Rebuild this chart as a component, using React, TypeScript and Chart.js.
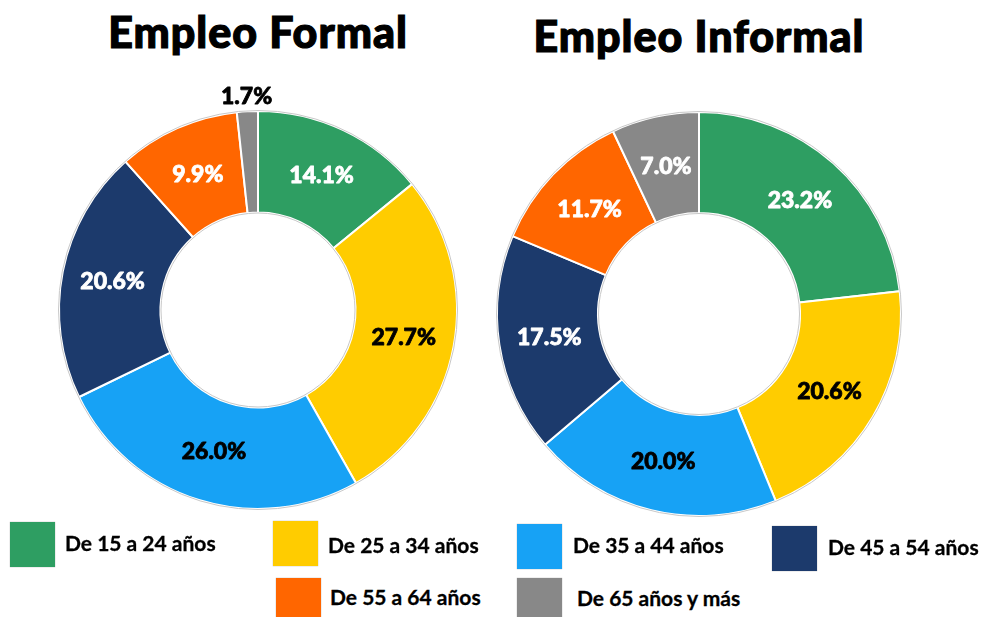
import React, { useEffect, useRef } from "react";
import { Chart, registerables } from "chart.js";

Chart.register(...registerables);

// ---- Data ----
const categories = [
  "De 15 a 24 años",
  "De 25 a 34 años",
  "De 35 a 44 años",
  "De 45 a 54 años",
  "De 55 a 64 años",
  "De 65 años y más",
];
const formalValues = [14.1, 27.7, 26.0, 20.6, 9.9, 1.7];
const informalValues = [23.2, 20.6, 20.0, 17.5, 11.7, 7.0];
const formalTitle = "Empleo Formal";
const informalTitle = "Empleo Informal";

// ---- Styles ----
const sliceColors = ["#2E9E62", "#FFCC00", "#17A2F5", "#1C3A6C", "#FF6600", "#888888"];
const formalLabelColors = ["#fff", "#000", "#000", "#fff", "#fff", "#000"];
const informalLabelColors = ["#fff", "#000", "#000", "#fff", "#fff", "#fff"];
const formalOutside = [false, false, false, false, false, true];
const informalOutside = [false, false, false, false, false, false];

const FONT = "Lato, 'Open Sans', 'DejaVu Sans', sans-serif";

function makeLabelPlugin(values: number[], colors: string[], outside: boolean[]) {
  return {
    id: "sliceLabels",
    afterDatasetsDraw(chart: any) {
      const ctx = chart.ctx;
      const meta = chart.getDatasetMeta(0);
      ctx.save();
      const a0 = meta.data[0];
      if (a0) {
        const p = a0.getProps(["x", "y", "innerRadius", "outerRadius"], true);
        ctx.strokeStyle = "#c8c8c8";
        ctx.lineWidth = 1;
        ctx.beginPath();
        ctx.arc(p.x, p.y, p.outerRadius + 0.5, 0, Math.PI * 2);
        ctx.stroke();
        ctx.beginPath();
        ctx.arc(p.x, p.y, p.innerRadius - 0.5, 0, Math.PI * 2);
        ctx.stroke();
      }
      ctx.font = `900 23px ${FONT}`;
      ctx.textAlign = "center";
      ctx.textBaseline = "middle";
      ctx.lineJoin = "round";
      meta.data.forEach((arc: any, i: number) => {
        const { x, y, startAngle, endAngle, innerRadius, outerRadius } = arc.getProps(
          ["x", "y", "startAngle", "endAngle", "innerRadius", "outerRadius"],
          true
        );
        const mid = (startAngle + endAngle) / 2;
        const r = outside[i] ? outerRadius + 15 : (innerRadius + outerRadius) / 2;
        const tx = x + Math.cos(mid) * r;
        const ty = y + Math.sin(mid) * r;
        const text = values[i].toFixed(1) + "%";
        ctx.fillStyle = colors[i];
        ctx.strokeStyle = colors[i];
        ctx.lineWidth = 0.8;
        ctx.fillText(text, tx, ty);
        ctx.strokeText(text, tx, ty);
      });
      ctx.restore();
    },
  };
}

function Donut(props: {
  values: number[];
  labelColors: string[];
  outside: boolean[];
  cutout: string;
  padding: number;
  style: React.CSSProperties;
}) {
  const ref = useRef<HTMLCanvasElement>(null);
  useEffect(() => {
    if (!ref.current) return;
    const chart = new Chart(ref.current, {
      type: "doughnut",
      data: {
        labels: categories,
        datasets: [
          {
            data: props.values,
            backgroundColor: sliceColors,
            borderColor: "#ffffff",
            borderWidth: 2,
          },
        ],
      },
      options: {
        responsive: false,
        animation: false,
        cutout: props.cutout,
        layout: { padding: props.padding },
        plugins: {
          legend: { display: false },
          tooltip: { enabled: false },
          title: { display: false },
        },
      },
      plugins: [makeLabelPlugin(props.values, props.labelColors, props.outside)],
    });
    return () => chart.destroy();
  }, []);
  return <canvas ref={ref} width={500} height={500} style={{ position: "absolute", ...props.style }} />;
}

const legendLayout = [
  { sw: [10, 522], tx: [65, 543] },
  { sw: [273, 521], tx: [328, 545] },
  { sw: [517, 524], tx: [573, 545] },
  { sw: [772, 526], tx: [828, 547] },
  { sw: [276, 578], tx: [330, 597] },
  { sw: [517, 578], tx: [577, 598] },
];

const titleStyle: React.CSSProperties = {
  position: "absolute",
  width: 500,
  textAlign: "center",
  fontSize: 43,
  fontWeight: 900,
  letterSpacing: 1,
  lineHeight: "50px",
  color: "#000",
  WebkitTextStroke: "1.2px #000",
};

export default function App() {
  return (
    <div
      style={{
        position: "fixed",
        left: 0,
        top: 0,
        width: 984,
        height: 617,
        background: "#fff",
        overflow: "hidden",
        fontFamily: FONT,
      }}
    >
      <div style={{ ...titleStyle, left: 258 - 250, top: 7 }}>{formalTitle}</div>
      <div style={{ ...titleStyle, left: 699 - 250, top: 11 }}>{informalTitle}</div>
      <Donut
        values={formalValues}
        labelColors={formalLabelColors}
        outside={formalOutside}
        cutout="49%"
        padding={50}
        style={{ left: 8, top: 60 }}
      />
      <Donut
        values={informalValues}
        labelColors={informalLabelColors}
        outside={informalOutside}
        cutout="50%"
        padding={47}
        style={{ left: 449, top: 64 }}
      />
      {categories.map((c, i) => (
        <React.Fragment key={c}>
          <div
            style={{
              position: "absolute",
              left: legendLayout[i].sw[0],
              top: legendLayout[i].sw[1],
              width: 45,
              height: 45,
              background: sliceColors[i],
              boxShadow: "0 0 1px rgba(0,0,0,0.4)",
            }}
          />
          <div
            style={{
              position: "absolute",
              left: legendLayout[i].tx[0],
              top: legendLayout[i].tx[1] - 13,
              height: 26,
              lineHeight: "26px",
              fontSize: 21,
              fontWeight: 700,
              color: "#000",
              whiteSpace: "nowrap",
              WebkitTextStroke: "0.3px #000",
            }}
          >
            {c}
          </div>
        </React.Fragment>
      ))}
    </div>
  );
}
